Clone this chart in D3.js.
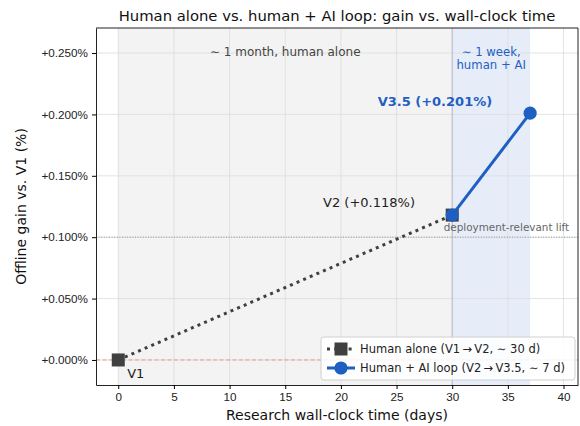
<!DOCTYPE html>
<html>
<head>
<meta charset="utf-8">
<script src="https://cdn.jsdelivr.net/npm/d3@7"></script>
<style>
  body { margin: 0; background: #fff; }
  svg { font-family: "DejaVu Sans", sans-serif; }
</style>
</head>
<body>
<svg id="chart" width="580" height="426"></svg>
<script>
// data
const humanDays = [0, 30]
const humanGain = [0.000, 0.118]
const aiDays = [30, 37]
const aiGain = [0.118, 0.201]
const xTicks = [0, 5, 10, 15, 20, 25, 30, 35, 40]
const yTicks = [0, 0.05, 0.10, 0.15, 0.20, 0.25]
const humanSpan = [0, 30]
const aiSpan = [30, 37]
const liftLine = 0.10

const blue = '#1f5fc2'
const dark = '#404040'

const margin = {top: 28, right: 2, bottom: 41, left: 96}
const width = 580, height = 426

const svg = d3.select('#chart')

const x = d3.scaleLinear().domain([-2, 41.3]).range([margin.left, width - margin.right])
const y = d3.scaleLinear().domain([-0.0204, 0.2704]).range([height - margin.bottom, margin.top])

const plot = svg.append('g')

// shaded periods
plot.append('rect')
  .attr('x', x(humanSpan[0])).attr('width', x(humanSpan[1]) - x(humanSpan[0]))
  .attr('y', margin.top).attr('height', y.range()[0] - margin.top)
  .attr('fill', '#f3f3f3')
plot.append('rect')
  .attr('x', x(aiSpan[0])).attr('width', x(aiSpan[1]) - x(aiSpan[0]))
  .attr('y', margin.top).attr('height', y.range()[0] - margin.top)
  .attr('fill', '#e6edf8')

// grid
plot.append('g').selectAll('line').data(xTicks).join('line')
  .attr('x1', d => x(d)).attr('x2', d => x(d))
  .attr('y1', margin.top).attr('y2', y.range()[0])
  .attr('stroke', '#dcdcdc').attr('stroke-width', 0.8)
plot.append('g').selectAll('line').data(yTicks).join('line')
  .attr('y1', d => y(d)).attr('y2', d => y(d))
  .attr('x1', margin.left).attr('x2', width - margin.right)
  .attr('stroke', '#dcdcdc').attr('stroke-width', 0.8)

// boundary between periods
plot.append('line')
  .attr('x1', x(30)).attr('x2', x(30))
  .attr('y1', margin.top).attr('y2', y.range()[0])
  .attr('stroke', '#b4bccb').attr('stroke-width', 1)

// zero line and lift threshold
plot.append('line')
  .attr('x1', margin.left).attr('x2', width - margin.right)
  .attr('y1', y(0)).attr('y2', y(0))
  .attr('stroke', '#e88a8a').attr('stroke-width', 1)
  .attr('stroke-dasharray', '4,2.5').attr('opacity', 0.85)
plot.append('line')
  .attr('x1', margin.left).attr('x2', width - margin.right)
  .attr('y1', y(liftLine)).attr('y2', y(liftLine))
  .attr('stroke', '#888').attr('stroke-width', 0.9)
  .attr('stroke-dasharray', '1,1.6')
plot.append('text')
  .attr('x', x(40.5)).attr('y', y(liftLine) - 6)
  .attr('text-anchor', 'end')
  .style('font-size', '10.4px').style('fill', '#666')
  .text('deployment-relevant lift')

// period labels
plot.append('text')
  .attr('x', x(15)).attr('y', 56)
  .attr('text-anchor', 'middle')
  .style('font-size', '12px').style('fill', '#444')
  .text('∼ 1 month, human alone')
const wk = plot.append('text')
  .attr('x', x(33.5)).attr('y', 56)
  .attr('text-anchor', 'middle')
  .style('font-size', '11.7px').style('fill', blue)
wk.append('tspan').attr('x', x(33.5)).text('∼ 1 week,')
wk.append('tspan').attr('x', x(33.5)).attr('dy', 13).text('human + AI')

// series
const line = d3.line().x(d => x(d[0])).y(d => y(d[1]))
const humanPts = humanDays.map((d, i) => [d, humanGain[i]])
const aiPts = aiDays.map((d, i) => [d, aiGain[i]])

plot.append('path').datum(humanPts)
  .attr('d', line).attr('fill', 'none')
  .attr('stroke', dark).attr('stroke-width', 3)
  .attr('stroke-dasharray', '3,4.2')
plot.append('g').selectAll('rect').data(humanPts).join('rect')
  .attr('x', d => x(d[0]) - 6.5).attr('y', d => y(d[1]) - 6.5)
  .attr('width', 13).attr('height', 13)
  .attr('fill', dark)

plot.append('path').datum(aiPts)
  .attr('d', line).attr('fill', 'none')
  .attr('stroke', blue).attr('stroke-width', 3)
plot.append('g').selectAll('circle').data(aiPts).join('circle')
  .attr('cx', d => x(d[0])).attr('cy', d => y(d[1]))
  .attr('r', 6.6).attr('fill', blue)

// point labels
plot.append('text')
  .attr('x', x(0.8)).attr('y', y(humanGain[0]) + 18)
  .style('font-size', '13px').style('fill', '#222')
  .text('V1')
plot.append('text')
  .attr('x', x(18.4)).attr('y', y(humanGain[1]) - 8)
  .style('font-size', '13px').style('fill', '#222')
  .text('V2 (+0.118%)')
plot.append('text')
  .attr('x', x(23.3)).attr('y', y(aiGain[1]) - 7)
  .style('font-size', '13px').style('fill', blue).style('font-weight', 'bold')
  .text('V3.5 (+0.201%)')

// axes
const yFmt = d => '+' + d.toFixed(3) + '%'
svg.append('g')
  .attr('transform', `translate(0,${y.range()[0]})`)
  .call(d3.axisBottom(x).tickValues(xTicks).tickSize(4).tickPadding(4).tickSizeOuter(0))
  .call(g => g.selectAll('text').style('font-size', '11.7px').style('fill', '#222'))
  .call(g => g.select('.domain').attr('stroke', '#222'))
svg.append('g')
  .attr('transform', `translate(${margin.left},0)`)
  .call(d3.axisLeft(y).tickValues(yTicks).tickFormat(yFmt).tickSize(4).tickPadding(4).tickSizeOuter(0))
  .call(g => g.selectAll('text').style('font-size', '11.7px').style('fill', '#222'))
  .call(g => g.select('.domain').attr('stroke', '#222'))
svg.append('line')
  .attr('x1', margin.left).attr('x2', width - margin.right)
  .attr('y1', margin.top).attr('y2', margin.top).attr('stroke', '#222')
svg.append('line')
  .attr('x1', width - margin.right).attr('x2', width - margin.right)
  .attr('y1', margin.top).attr('y2', y.range()[0]).attr('stroke', '#222')

// labels
svg.append('text')
  .attr('x', (margin.left + width - margin.right) / 2).attr('y', 21)
  .attr('text-anchor', 'middle').style('font-size', '14.8px').style('fill', '#111')
  .text('Human alone vs. human + AI loop: gain vs. wall-clock time')
svg.append('text')
  .attr('x', (margin.left + width - margin.right) / 2).attr('y', 420)
  .attr('text-anchor', 'middle').style('font-size', '14px').style('fill', '#111')
  .text('Research wall-clock time (days)')
svg.append('text')
  .attr('transform', `translate(26,${(margin.top + y.range()[0]) / 2}) rotate(-90)`)
  .attr('text-anchor', 'middle').style('font-size', '14px').style('fill', '#111')
  .text('Offline gain vs. V1 (%)')

// legend
const lg = svg.append('g').attr('transform', 'translate(321,337)')
lg.append('rect').attr('width', 254).attr('height', 43).attr('rx', 3)
  .attr('fill', 'white').attr('fill-opacity', 0.85)
  .attr('stroke', '#d0d0d0')
lg.append('line').attr('x1', 6).attr('x2', 34).attr('y1', 12).attr('y2', 12)
  .attr('stroke', dark).attr('stroke-width', 3).attr('stroke-dasharray', '3,4.2')
lg.append('rect').attr('x', 13.5).attr('y', 5.5).attr('width', 13).attr('height', 13).attr('fill', dark)
lg.append('line').attr('x1', 6).attr('x2', 34).attr('y1', 31).attr('y2', 31)
  .attr('stroke', blue).attr('stroke-width', 3)
lg.append('circle').attr('cx', 20).attr('cy', 31).attr('r', 6.6).attr('fill', blue)
const legendLabels = ['Human alone (V1\u2009→\u2009V2,  ∼ 30 d)', 'Human + AI loop (V2\u2009→\u2009V3.5,  ∼ 7 d)']
lg.selectAll('text.lbl').data(legendLabels).join('text')
  .attr('class', 'lbl')
  .attr('x', 39).attr('y', (d, i) => 16 + i * 19)
  .style('font-size', '11.5px').style('fill', '#222')
  .text(d => d)
</script>
</body>
</html>
